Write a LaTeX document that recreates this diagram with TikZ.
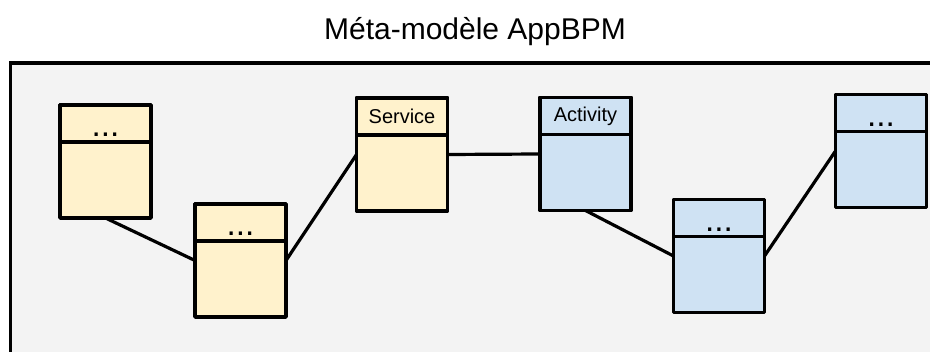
\documentclass[tikz,border=0pt]{standalone}
\usepackage{fontspec}
\setmainfont{Liberation Sans}
\definecolor{bggray}{HTML}{F3F3F3}
\definecolor{yfill}{HTML}{FFF2CC}
\definecolor{bfill}{HTML}{CFE2F3}
\begin{document}
\begin{tikzpicture}[x=0.75pt,y=-0.75pt,
  box/.style={draw=black,line width=2.7pt,line join=round,minimum width=68.25pt,minimum height=84.75pt,inner sep=0pt,outer sep=0pt},
  head/.style={box,minimum height=27.75pt,font=\fontsize{15}{18}\selectfont},
  ybox/.style={box,fill=yfill},
  bbox/.style={box,fill=bfill},
  yhead/.style={head,fill=yfill},
  bhead/.style={head,fill=bfill},
  dots/.style={anchor=base,inner sep=0pt,font=\fontsize{25}{30}\selectfont},
  conn/.style={draw=black,line width=2.4pt},
  title/.style={anchor=base,inner sep=0pt,font=\fontsize{22.5}{27}\selectfont}]
\useasboundingbox (0,0) rectangle (930,352);
\clip (0,0) rectangle (930,352);
\fill[white] (0,0) rectangle (930,352);
\draw[line width=2.7pt,fill=bggray] (10.5,63) rectangle (945,370);
\node[title] (t) at (475,40) {Méta-modèle AppBPM};
% yellow boxes
\node[ybox] (a1) at (105.5,161.5) {};
\node[yhead,anchor=north] (a1h) at (a1.north) {};
\node[dots] (a1d) at ([yshift=4pt]a1h.south) {...};
\node[ybox] (a2) at (240.5,260.5) {};
\node[yhead,anchor=north] (a2h) at (a2.north) {};
\node[dots] (a2d) at ([yshift=4pt]a2h.south) {...};
\node[ybox] (sv) at (402,154.5) {};
\node[yhead,anchor=north] (svh) at (sv.north) {Service};
% blue boxes
\node[bbox] (ac) at (585.5,154) {};
\node[bhead,anchor=north] (ach) at (ac.north) {Activity};
\node[bbox] (b2) at (719,256) {};
\node[bhead,anchor=north] (b2h) at (b2.north) {};
\node[dots] (b2d) at ([yshift=4pt]b2h.south) {...};
\node[bbox] (b3) at (881,151) {};
\node[bhead,anchor=north] (b3h) at (b3.north) {};
\node[dots] (b3d) at ([yshift=4pt]b3h.south) {...};
% connectors
\draw[conn] (a1.south) -- (a2.west);
\draw[conn] (a2.east) -- (sv.west);
\draw[conn] (sv.east) -- (ac.west);
\draw[conn] (ac.south) -- (b2.west);
\draw[conn] (b2.east) -- (b3.west);
\end{tikzpicture}
\end{document}
